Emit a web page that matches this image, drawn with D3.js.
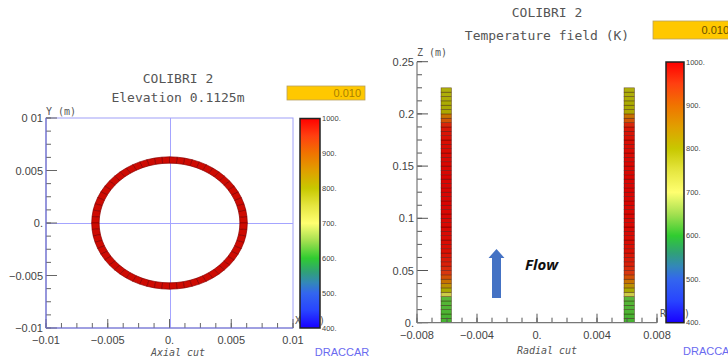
<!DOCTYPE html>
<html>
<head>
<meta charset="utf-8">
<script src="https://cdn.jsdelivr.net/npm/d3@7"></script>
<style>
  body { margin: 0; background: #fff; }
  svg { display: block; }
</style>
</head>
<body>
<svg width="728" height="364"></svg>
<script>
// --- Data ---
const plotTitle = "COLIBRI 2";
const leftSubtitle = "Elevation 0.1125m";
const rightSubtitle = "Temperature field (K)";
const timeLabel = "0.010";

// colour map of the temperature legend (K)
const cbTemps = [400, 450, 500, 530, 560, 600, 650, 700, 750, 800, 850, 900, 950, 1000];
const cbColors = ["#1800ff", "#2844ff", "#3366ee", "#3388b8", "#30a078", "#30cc30", "#a4e050",
                  "#ffff70", "#e6e640", "#c8c800", "#e0a000", "#f07400", "#ff4010", "#ff0000"];
const cbTicks = [400, 500, 600, 700, 800, 900, 1000];

// axial cut: ring of the clad at z = 0.1125 m
const ringRadii = [0.0057, 0.0063];   // inner, outer (m)
const ringTemp = 990;
const ringCells = 64;

// radial cut: cell temperatures from bottom (z = 0) to top (z = 0.225), both walls
const cellHeight = 0.225 / 54;
const cellTemps = [615, 615, 618, 620, 622, 625, 730, 800, 840, 880, 920, 950,
                   962, 970, 976, 980, 984, 987, 989, 990, 991, 992, 993, 993,
                   994, 994, 994, 995, 995, 995, 995, 995, 995, 995, 994, 994,
                   993, 992, 991, 990, 989, 987, 985, 982, 978, 965, 915, 880,
                   805, 800, 798, 795, 793, 790];
const wallsR = [[-0.0064, -0.0057], [0.0058, 0.0065]];

// axes
const xLTicks = [-0.01, -0.005, 0, 0.005, 0.01];
const xLLabels = ["\u22120.01", "\u22120.005", "0.", "0.005", "0.01"];
const yLTicks = [-0.01, -0.005, 0, 0.005, 0.01];
const yLLabels = ["\u22120.01", "\u22120.005", "0.", "0.005", "0 01"];
const xRTicks = [-0.008, -0.004, 0, 0.004, 0.008];
const xRLabels = ["\u22120.008", "\u22120.004", "0.", "0.004", "0.008"];
const yRTicks = [0, 0.05, 0.1, 0.15, 0.2, 0.25];
const yRLabels = ["0.", "0.05", "0.1", "0.15", "0.2", "0.25"];

// flow arrow (r, z in m)
const arrowR = -0.0027;
const arrowZ = [0.0237, 0.062, 0.0706];  // tail, head base, tip

// --- Setup ---
const svg = d3.select("svg");
const mono = "'DejaVu Sans Mono', 'Liberation Mono', monospace";
const sans = "'Liberation Sans', Arial, sans-serif";
const txtCol = "#555";

const color = d3.scaleLinear().domain(cbTemps).range(cbColors).clamp(true);

const xL = d3.scaleLinear().domain([-0.01, 0.01]).range([46, 293]);
const yL = d3.scaleLinear().domain([-0.01, 0.01]).range([328, 118]);
const xR = d3.scaleLinear().domain([-0.008, 0.008]).range([417, 657]);
const yR = d3.scaleLinear().domain([0, 0.25]).range([322.7, 61.7]);

const defs = svg.append("defs");
const grad = defs.append("linearGradient").attr("id", "cb-grad")
    .attr("x1", 0).attr("y1", 1).attr("x2", 0).attr("y2", 0);
cbTemps.forEach((t, i) => {
    grad.append("stop").attr("offset", (t - 400) / 600).attr("stop-color", cbColors[i]);
});

function text(x, y, s, opts) {
    const o = Object.assign({ size: 13, family: mono, fill: txtCol, anchor: "middle" }, opts || {});
    return svg.append("text")
        .attr("x", x).attr("y", y)
        .attr("text-anchor", o.anchor)
        .attr("dominant-baseline", "central")
        .attr("font-family", o.family)
        .attr("font-size", o.size)
        .attr("font-style", o.style || "normal")
        .attr("font-weight", o.weight || "normal")
        .attr("fill", o.fill)
        .text(s);
}

function minorTicks(domain, step) {
    return d3.range(domain[0], domain[1] + step / 2, step);
}

function drawAxes(g, x, y, xt, xl, yt, yl, xStep, yStep, lineCol, tickCol) {
    const [x0, x1] = x.range(), [y0, y1] = y.range();
    // minor ticks
    g.selectAll(".mx").data(minorTicks(x.domain(), xStep)).enter().append("line")
        .attr("x1", d => x(d)).attr("x2", d => x(d))
        .attr("y1", y0).attr("y2", y0 - 5)
        .attr("stroke", tickCol).attr("stroke-width", 1);
    g.selectAll(".my").data(minorTicks(y.domain(), yStep)).enter().append("line")
        .attr("y1", d => y(d)).attr("y2", d => y(d))
        .attr("x1", x0).attr("x2", x0 + 5)
        .attr("stroke", tickCol).attr("stroke-width", 1);
    // major ticks
    g.selectAll(".Mx").data(xt).enter().append("line")
        .attr("x1", d => x(d)).attr("x2", d => x(d))
        .attr("y1", y0).attr("y2", y0 - 9)
        .attr("stroke", tickCol).attr("stroke-width", 1);
    g.selectAll(".My").data(yt).enter().append("line")
        .attr("y1", d => y(d)).attr("y2", d => y(d))
        .attr("x1", x0).attr("x2", x0 + 11)
        .attr("stroke", tickCol).attr("stroke-width", 1);
    // axis lines
    g.append("line").attr("x1", x0).attr("x2", x0).attr("y1", y0).attr("y2", y1)
        .attr("stroke", lineCol).attr("stroke-width", 1.2);
    g.append("line").attr("x1", x0).attr("x2", x1).attr("y1", y0).attr("y2", y0)
        .attr("stroke", lineCol).attr("stroke-width", 1.2);
    // labels
    xt.forEach((d, i) => text(x(d), y0 + 12, xl[i], { family: sans, size: 11, fill: "#444" }));
    yt.forEach((d, i) => text(x0 - 3, y(d), yl[i], { family: sans, size: 11, fill: "#444", anchor: "end" }));
}

function drawColorbar(x0, x1, y0, y1) {
    const cb = d3.scaleLinear().domain([400, 1000]).range([y1, y0]);
    svg.append("rect")
        .attr("x", x0).attr("y", y0).attr("width", x1 - x0).attr("height", y1 - y0)
        .attr("fill", "url(#cb-grad)")
        .attr("stroke", "#222").attr("stroke-width", 1.5);
    cbTicks.forEach(t => {
        text(x1 + 2, cb(t), t + ".", { family: sans, size: 7.5, fill: "#444", anchor: "start" });
    });
}

function timeBox(x, y, w, h, fill) {
    svg.append("rect").attr("x", x).attr("y", y).attr("width", w).attr("height", h)
        .attr("fill", "#ffc800").attr("stroke", "#b8a060").attr("stroke-width", 0.8);
    text(x + w - 4, y + h / 2, timeLabel, { family: sans, size: 11, fill: fill, anchor: "end" });
}

// --- Left plot: axial cut ---
const gL = svg.append("g");
gL.append("rect")
    .attr("x", xL(-0.01)).attr("y", yL(0.01))
    .attr("width", xL(0.01) - xL(-0.01)).attr("height", yL(-0.01) - yL(0.01))
    .attr("fill", "none").attr("stroke", "#a0a0f8").attr("stroke-width", 1);
gL.append("line").attr("x1", xL(0) + 0.5).attr("x2", xL(0) + 0.5).attr("y1", yL(0.01)).attr("y2", yL(-0.01))
    .attr("stroke", "#a4a4ff").attr("stroke-width", 1).attr("shape-rendering", "crispEdges");
gL.append("line").attr("x1", xL(-0.01)).attr("x2", xL(0.01)).attr("y1", yL(0) + 0.5).attr("y2", yL(0) + 0.5)
    .attr("stroke", "#a4a4ff").attr("stroke-width", 1).attr("shape-rendering", "crispEdges");

// ring cells
const ringData = d3.range(ringCells).map(i => ({
    a0: 2 * Math.PI * i / ringCells,
    a1: 2 * Math.PI * (i + 1) / ringCells,
    t: ringTemp
}));
const ringPt = (r, a) => [xL(r * Math.cos(a)), yL(r * Math.sin(a))];
gL.selectAll(".ring").data(ringData).enter().append("path")
    .attr("d", d => "M" + [ringPt(ringRadii[0], d.a0), ringPt(ringRadii[1], d.a0),
                          ringPt(ringRadii[1], d.a1), ringPt(ringRadii[0], d.a1)].join("L") + "Z")
    .attr("fill", d => d3.color(color(d.t)).darker(0.6))
    .attr("stroke", "#880000").attr("stroke-width", 0.7);

drawAxes(gL, xL, yL, xLTicks, xLLabels, yLTicks, yLLabels, 0.00125, 0.00125, "#7070c8", "#666");

text(178, 78, plotTitle);
text(178, 97, leftSubtitle);
text(46, 111, "Y (m)", { size: 10, anchor: "start" });
text(295, 320, "X (m)", { size: 10, anchor: "start" });
text(178, 352, "Axial cut", { size: 10, style: "italic" });
text(342, 352, "DRACCAR", { size: 11, family: sans, fill: "#6a6af0" });
drawColorbar(300, 320, 118.5, 328);
timeBox(287, 86, 78, 14, "#a88000");

// --- Right plot: radial cut ---
const gR = svg.append("g");
const cells = [];
wallsR.forEach(w => cellTemps.forEach((t, i) => cells.push({ r0: w[0], r1: w[1], z0: i * cellHeight, z1: (i + 1) * cellHeight, t })));
gR.selectAll(".cell").data(cells).enter().append("rect")
    .attr("x", d => xR(d.r0)).attr("width", d => xR(d.r1) - xR(d.r0))
    .attr("y", d => yR(d.z1)).attr("height", d => yR(d.z0) - yR(d.z1))
    .attr("fill", d => d3.color(color(d.t)).darker(0.45))
    .attr("stroke", "rgba(40,0,0,0.55)").attr("stroke-width", 0.6);

drawAxes(gR, xR, yR, xRTicks, xRLabels, yRTicks, yRLabels, 0.001, 0.0125, "#777", "#555");

// flow arrow
const hw = 0.0003, hh = 0.00053;
gR.append("path")
    .attr("d", "M" + [
        [xR(arrowR - hw), yR(arrowZ[0])], [xR(arrowR - hw), yR(arrowZ[1])],
        [xR(arrowR - hh), yR(arrowZ[1])], [xR(arrowR), yR(arrowZ[2])],
        [xR(arrowR + hh), yR(arrowZ[1])], [xR(arrowR + hw), yR(arrowZ[1])],
        [xR(arrowR + hw), yR(arrowZ[0])]
    ].join("L") + "Z")
    .attr("fill", "#4472c4");
text(525, 264, "Flow", { family: "'Open Sans', sans-serif", size: 15, weight: "bold", style: "italic", fill: "#111", anchor: "start" });

text(547, 12, plotTitle);
text(547, 35, rightSubtitle);
text(417, 52, "Z (m)", { size: 10, anchor: "start" });
text(660, 313, "R (m)", { size: 10, anchor: "start" });
text(547, 350, "Radial cut", { size: 10, style: "italic" });
text(683, 351, "DRACCAR", { size: 11, family: sans, fill: "#6a6af0", anchor: "start" });
drawColorbar(666, 684, 62, 322.7);
timeBox(653, 21, 80, 18, "#6a5000");
</script>
</body>
</html>
